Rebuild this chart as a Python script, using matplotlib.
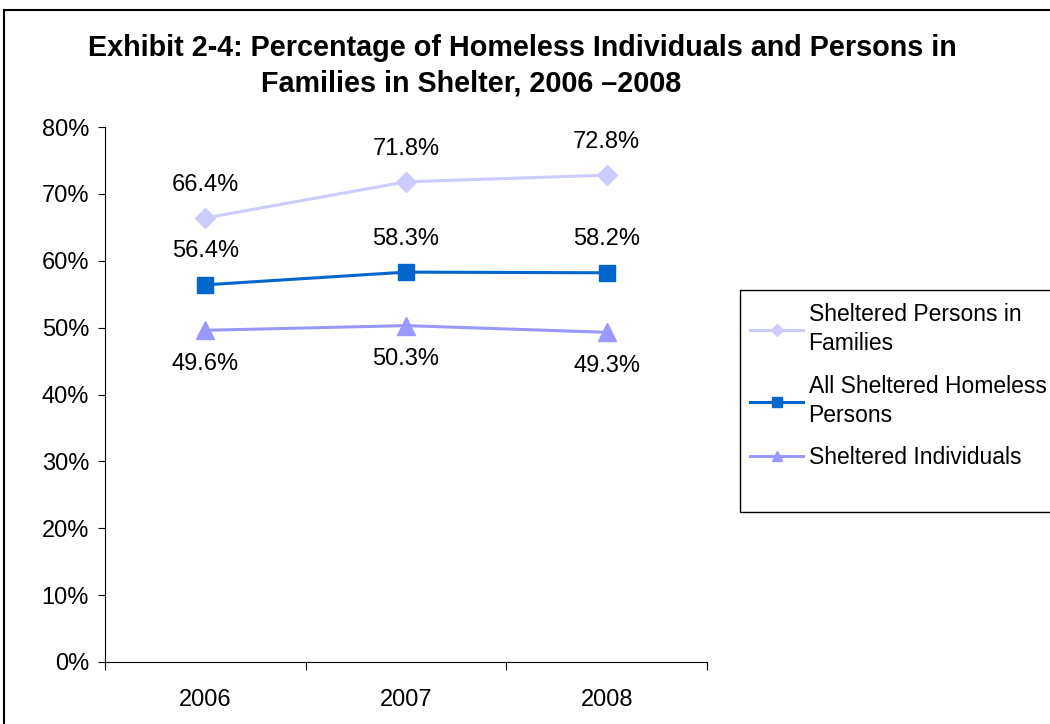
import matplotlib.pyplot as plt
from matplotlib.patches import Rectangle
from matplotlib.ticker import FixedLocator, PercentFormatter

plt.rcParams['font.family'] = ['Liberation Sans', 'DejaVu Sans']

years = ['2006', '2007', '2008']
families = [66.4, 71.8, 72.8]
all_persons = [56.4, 58.3, 58.2]
individuals = [49.6, 50.3, 49.3]

# name, values, colour, marker, marker size, label offset (pt)
series = [
    ('Sheltered Persons in\nFamilies', families, '#CCCCFF', 'D', 10, 24),
    ('All Sheltered Homeless\nPersons', all_persons, '#0066CC', 's', 12, 24),
    ('Sheltered Individuals', individuals, '#9999FF', '^', 13, -24),
]

fig = plt.figure(figsize=(10.5, 7.24), dpi=100)
ax = fig.add_axes([105/1050, 1-662/724, 602/1050, 535/724])

x = list(range(len(years)))
handles = []
for name, vals, color, marker, ms, off in series:
    h, = ax.plot(x, vals, color=color, marker=marker, markersize=ms, lw=2.2,
                 label=name)
    handles.append(h)
    for xi, v in zip(x, vals):
        ax.annotate(f'{v:.1f}%', (xi, v), xytext=(0, off),
                    textcoords='offset points', ha='center', va='center',
                    fontsize=17)

ax.set_xlim(-0.5, 2.5)
ax.set_ylim(0, 80)
ax.yaxis.set_major_locator(FixedLocator(range(0, 81, 10)))
ax.yaxis.set_major_formatter(PercentFormatter(decimals=0))
ax.set_xticks([-0.5, 0.5, 1.5, 2.5])
ax.set_xticklabels([])
ax.set_xticks(x, minor=True)
ax.set_xticklabels(years, minor=True)
ax.tick_params(axis='x', which='major', direction='out', length=6, width=0.8)
ax.tick_params(axis='x', which='minor', length=0, pad=19.5, labelsize=17)
ax.tick_params(axis='y', direction='out', length=5, width=0.8, labelsize=17, pad=6.5)
for s in ['top', 'right']:
    ax.spines[s].set_visible(False)

fig.text(522/1050, 1-48/724, 'Exhibit 2-4: Percentage of Homeless Individuals and Persons in',
         ha='center', va='center', fontsize=20.7, fontweight='bold')
fig.text(471/1050, 1-84/724, 'Families in Shelter, 2006 \u20132008',
         ha='center', va='center', fontsize=20.7, fontweight='bold')

# outer chart border
fig.patches.append(Rectangle((4/1050, -0.05), 1.1, 1.05 - 10/724, transform=fig.transFigure,
                             fill=False, edgecolor='black', lw=1.5))

# legend box
fig.patches.append(Rectangle((740/1050, 1-512/724), 1.0, 222/724, transform=fig.transFigure,
                             fill=False, edgecolor='black', lw=1))
leg = fig.legend(handles=handles, loc='upper left', bbox_to_anchor=(741/1050, 1-294/724),
                 frameon=False, fontsize=16.5, handlelength=2.3, handletextpad=0.25,
                 labelspacing=0.85, borderaxespad=0, markerscale=0.6)
for t in leg.get_texts():
    t.set_linespacing(1.33)

fig.savefig('out.png', dpi=100)
